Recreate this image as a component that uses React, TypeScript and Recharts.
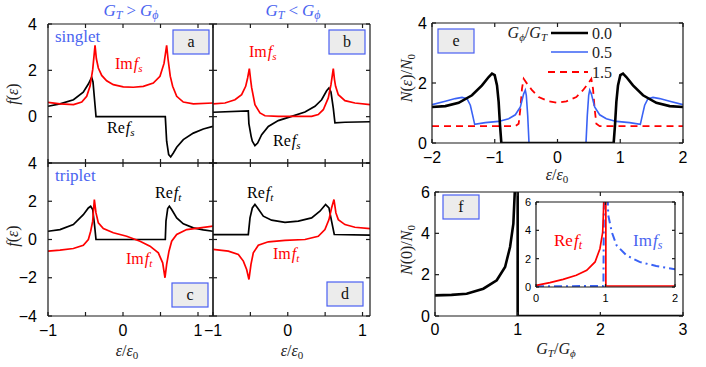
import React from 'react';
import { LineChart, Line, XAxis, YAxis } from 'recharts';

// ---- data: [x, y] pairs ----
// panel a: G_T > G_phi, singlet
const imFsA = [
  [-1, 0.62], [-0.84, 0.55], [-0.66, 0.52], [-0.55, 0.63], [-0.484, 0.88], [-0.44, 1.31], [-0.404, 2.03],
  [-0.373, 3.08], [-0.355, 2.5], [-0.329, 2.1], [-0.284, 1.78], [-0.218, 1.55], [-0.129, 1.38], [0.004, 1.29],
  [0.138, 1.27], [0.271, 1.31], [0.404, 1.45], [0.493, 1.74], [0.547, 2.3], [0.582, 3.08], [0.6, 2.5],
  [0.63, 1.75], [0.662, 1.31], [0.716, 0.88], [0.804, 0.63], [0.938, 0.55], [1.2, 0.59],
];
const reFsA = [
  [-1, 0.45], [-0.84, 0.55], [-0.66, 0.73], [-0.53, 1.06], [-0.462, 1.41], [-0.418, 1.7], [-0.4, 1.5],
  [-0.365, 0.2], [-0.36, 0], [0.564, 0], [0.582, -1.06], [0.609, -1.64], [0.636, -1.74], [0.671, -1.57],
  [0.716, -1.32], [0.804, -0.99], [0.938, -0.71], [1.071, -0.53], [1.2, -0.42],
];
// panel b: G_T < G_phi, singlet
const imFsB = [
  [-1, 0.55], [-0.84, 0.59], [-0.706, 0.73], [-0.617, 0.95], [-0.563, 1.31], [-0.537, 1.67], [-0.514, 2.07],
  [-0.495, 1.55], [-0.483, 1.25], [-0.439, 0.52], [-0.372, 0.16], [-0.305, 0.04], [-0.127, 0.01], [0.319, 0.01],
  [0.408, 0.09], [0.475, 0.3], [0.542, 0.81], [0.578, 1.38], [0.609, 2.07], [0.625, 1.6], [0.64, 1.31],
  [0.676, 0.95], [0.765, 0.69], [0.898, 0.59], [1.1, 0.52],
];
const reFsB = [
  [-1, 0.19], [-0.528, 0.25], [-0.52, -0.3], [-0.49, -0.85], [-0.474, -1.06], [-0.439, -1.25], [-0.403, -1.14],
  [-0.349, -0.78], [-0.26, -0.42], [-0.127, -0.17], [0.052, 0.01], [0.23, 0.2], [0.364, 0.45], [0.453, 0.73],
  [0.52, 1.12], [0.551, 1.24], [0.578, 1.06], [0.609, 0.37], [0.631, -0.27], [0.765, -0.24], [1.1, -0.22],
];
// panel c: G_T > G_phi, triplet
const reFtC = [
  [-1, 0.43], [-0.84, 0.52], [-0.662, 0.78], [-0.529, 1.3], [-0.462, 1.65], [-0.431, 1.74], [-0.404, 1.57],
  [-0.378, 0.7], [-0.36, 0], [0.564, 0], [0.573, 0.96], [0.596, 1.62], [0.618, 1.74], [0.649, 1.57],
  [0.716, 1.13], [0.804, 0.82], [0.938, 0.61], [1.071, 0.5], [1.2, 0.43],
];
const imFtC = [
  [-1, -0.61], [-0.84, -0.56], [-0.662, -0.47], [-0.529, -0.3], [-0.462, 0], [-0.431, 0.43], [-0.404, 0.96],
  [-0.382, 2.09], [-0.36, 1.39], [-0.329, 0.87], [-0.262, 0.57], [-0.129, 0.35], [0.049, 0.17], [0.227, -0.09],
  [0.36, -0.35], [0.471, -0.7], [0.529, -1.22], [0.56, -2.0], [0.582, -1.3], [0.613, -0.61], [0.649, -0.09],
  [0.716, 0.26], [0.849, 0.52], [1.027, 0.61], [1.2, 0.7],
];
// panel d: G_T < G_phi, triplet
const reFtD = [
  [-1, 0.26], [-0.528, 0.26], [-0.505, 1.13], [-0.474, 1.65], [-0.439, 1.83], [-0.403, 1.65], [-0.327, 1.22],
  [-0.216, 1.01], [-0.037, 0.9], [0.141, 0.96], [0.319, 1.13], [0.43, 1.48], [0.506, 1.83], [0.551, 1.65],
  [0.586, 0.96], [0.622, 0.26], [1.1, 0.23],
];
const imFtD = [
  [-1, -0.52], [-0.795, -0.61], [-0.661, -0.78], [-0.594, -1.13], [-0.55, -1.57], [-0.519, -2.09],
  [-0.492, -1.3], [-0.461, -0.7], [-0.394, -0.3], [-0.26, -0.12], [-0.037, -0.05], [0.23, 0], [0.408, 0.17],
  [0.497, 0.52], [0.551, 1.04], [0.586, 1.65], [0.618, 2.09], [0.644, 1.39], [0.676, 1.04], [0.765, 0.78],
  [0.898, 0.64], [1.1, 0.57],
];
// panel e: DOS for G_phi/G_T = 0.0, 0.5, 1.5
const dos00 = [
  [-2, 1.2], [-1.788, 1.23], [-1.575, 1.34], [-1.363, 1.59], [-1.203, 1.92], [-1.097, 2.2], [-1.044, 2.31],
  [-1.001, 2.26], [-0.964, 1.92], [-0.938, 1.37], [-0.916, 0.59], [-0.895, 0], [0.895, 0], [0.916, 0.59],
  [0.938, 1.37], [0.964, 1.92], [1.001, 2.26], [1.044, 2.31], [1.097, 2.2], [1.203, 1.92], [1.363, 1.59],
  [1.575, 1.34], [1.788, 1.23], [2, 1.2],
];
const dos05 = [
  [-2, 1.28], [-1.788, 1.39], [-1.628, 1.48], [-1.522, 1.52], [-1.442, 1.48], [-1.389, 1.26], [-1.352, 0.92],
  [-1.32, 0.62], [-1.15, 0.68], [-0.938, 0.72], [-0.778, 0.81], [-0.672, 0.94], [-0.592, 1.2], [-0.539, 1.64],
  [-0.513, 1.76], [-0.497, 1.59], [-0.475, 0.92], [-0.454, 0], [0.454, 0], [0.475, 0.92], [0.497, 1.59],
  [0.513, 1.76], [0.539, 1.64], [0.592, 1.2], [0.672, 0.94], [0.778, 0.81], [0.938, 0.72], [1.15, 0.68],
  [1.32, 0.62], [1.352, 0.92], [1.389, 1.26], [1.442, 1.48], [1.522, 1.52], [1.628, 1.48], [1.788, 1.39],
  [2, 1.28],
];
const dos15 = [
  [-2, 0.56], [-0.672, 0.56], [-0.619, 0.64], [-0.592, 1.14], [-0.566, 1.81], [-0.539, 2.14], [-0.486, 1.98],
  [-0.406, 1.76], [-0.3, 1.53], [-0.141, 1.39], [0, 1.34], [0.141, 1.39], [0.3, 1.53], [0.406, 1.76],
  [0.486, 1.98], [0.539, 2.14], [0.566, 1.81], [0.592, 1.14], [0.619, 0.64], [0.672, 0.56], [2, 0.56],
];
// panel f: zero-energy DOS vs G_T/G_phi, and inset
const n0 = [
  [0, 1.0], [0.2, 1.02], [0.383, 1.08], [0.585, 1.32], [0.747, 1.73], [0.848, 2.37], [0.908, 3.34],
  [0.948, 4.47], [0.965, 6.0], [0.975, 8], [1.0, 8], [1.0, 0], [3, 0],
];
const reFtInset = [
  [0, 0.12], [0.2, 0.31], [0.39, 0.54], [0.58, 0.83], [0.73, 1.18], [0.85, 1.77], [0.92, 2.7], [0.96, 3.88],
  [0.976, 6], [0.99, 9], [1.005, 9], [1.005, 0.07], [2, 0.07],
];
const imFsInset = [
  [0, 0.05], [0.97, 0.07], [0.98, 9], [1.01, 9], [1.04, 5.06], [1.09, 3.88], [1.16, 2.94], [1.3, 2.24],
  [1.49, 1.77], [1.73, 1.48], [2.0, 1.25],
];

const RED = '#ff0000';
const BLACK = '#000000';
const BLUE = '#3a62f5';
const BLUE_TXT = '#4a64f0';
const AXIS = '#1a1a1a';
const SANS = 'Liberation Sans, Arial, sans-serif';
const SERIF = 'Liberation Serif, Times New Roman, serif';

const PL = 45, PR = 8, PT = 8, PB = 32;

type Pair = number[];
interface Box { left: number; top: number; right: number; bottom: number }
interface Series { data: Pair[]; color: string; width: number; dash?: string }
interface PanelProps {
  box: Box;
  xDomain: [number, number];
  yDomain: [number, number];
  xTicks: number[];
  yTicks: number[];
  xLabeled?: number[];
  yLabeled?: number[];
  series: Series[];
  fontSize?: number;
  tickLen?: number;
  xGap?: number;
  yGap?: number;
}

const toPts = (arr: Pair[]) => arr.map(([x, y]) => ({ x, y }));
const fmt = (labeled: number[]) => (v: number) =>
  labeled.includes(v) ? (v < 0 ? `\u2212${-v}` : `${v}`) : '';

const Panel: React.FC<PanelProps> = ({
  box, xDomain, yDomain, xTicks, yTicks, xLabeled = [], yLabeled = [], series,
  fontSize = 16, tickLen = 4, xGap = 9, yGap = 11,
}) => {
  const w = box.right - box.left;
  const h = box.bottom - box.top;
  const tickStyle = { fill: '#000', fontSize, fontFamily: SANS };
  return (
    <div style={{ position: 'absolute', left: box.left - PL, top: box.top - PT }}>
      <LineChart width={PL + w + PR} height={PT + h + PB} margin={{ top: PT, right: PR, bottom: 0, left: 0 }}>
        <XAxis xAxisId="b" type="number" dataKey="x" domain={xDomain} allowDataOverflow ticks={xTicks}
          interval={0} height={PB} tickSize={-tickLen} tickMargin={tickLen + xGap} tickFormatter={fmt(xLabeled)}
          tick={tickStyle} stroke={AXIS} strokeWidth={1.2} />
        <XAxis xAxisId="t" orientation="top" mirror type="number" dataKey="x" domain={xDomain} allowDataOverflow
          ticks={xTicks} interval={0} height={1} tickSize={tickLen} tickFormatter={() => ''}
          stroke={AXIS} strokeWidth={1.2} />
        <YAxis yAxisId="l" type="number" dataKey="y" domain={yDomain} allowDataOverflow ticks={yTicks}
          interval={0} width={PL} tickSize={-tickLen} tickMargin={tickLen + yGap} tickFormatter={fmt(yLabeled)}
          tick={tickStyle} stroke={AXIS} strokeWidth={1.2} />
        <YAxis yAxisId="r" orientation="right" mirror type="number" dataKey="y" domain={yDomain} allowDataOverflow
          ticks={yTicks} interval={0} width={1} tickSize={tickLen} tickFormatter={() => ''}
          stroke={AXIS} strokeWidth={1.2} />
        {series.map((s, i) => (
          <Line key={i} xAxisId="b" yAxisId="l" data={toPts(s.data)} dataKey="y" type="linear" stroke={s.color}
            strokeWidth={s.width} strokeDasharray={s.dash} dot={false} activeDot={false} isAnimationActive={false} />
        ))}
      </LineChart>
    </div>
  );
};

const LetterBox = ({ x, y, w, h, c }: { x: number; y: number; w: number; h: number; c: string }) => (
  <g>
    <rect x={x} y={y} width={w} height={h} fill="#ececec" stroke="#4a5ff2" strokeWidth={1.2} />
    <text x={x + w / 2} y={y + h / 2 + 5} textAnchor="middle" fontSize={16} fontFamily={SERIF} fill="#111">{c}</text>
  </g>
);

const fTicksX = [-1, -0.5, 0, 0.5, 1];

const App: React.FC = () => {
  return (
    <div style={{ position: 'absolute', left: 0, top: 0, width: 706, height: 367, background: '#fff', overflow: 'hidden' }}>
      <Panel box={{ left: 48, top: 24, right: 213, bottom: 163 }} xDomain={[-1, 1.2]} yDomain={[-2, 4]}
        xTicks={fTicksX} yTicks={[-2, 0, 2, 4]} yLabeled={[0, 2, 4]}
        series={[{ data: reFsA, color: BLACK, width: 1.7 }, { data: imFsA, color: RED, width: 1.7 }]} />
      <Panel box={{ left: 213, top: 24, right: 370, bottom: 163 }} xDomain={[-1, 1.1]} yDomain={[-2, 4]}
        xTicks={fTicksX} yTicks={[-2, 0, 2, 4]}
        series={[{ data: reFsB, color: BLACK, width: 1.7 }, { data: imFsB, color: RED, width: 1.7 }]} />
      <Panel box={{ left: 48, top: 163, right: 213, bottom: 316 }} xDomain={[-1, 1.2]} yDomain={[-4, 4]}
        xTicks={fTicksX} yTicks={[-4, -2, 0, 2, 4]} xLabeled={[-1, 0, 1]} yLabeled={[-4, -2, 0, 2, 4]}
        series={[{ data: reFtC, color: BLACK, width: 1.7 }, { data: imFtC, color: RED, width: 1.7 }]} />
      <Panel box={{ left: 213, top: 163, right: 370, bottom: 316 }} xDomain={[-1, 1.1]} yDomain={[-4, 4]}
        xTicks={fTicksX} yTicks={[-4, -2, 0, 2, 4]} xLabeled={[-1, 0, 1]}
        series={[{ data: reFtD, color: BLACK, width: 1.7 }, { data: imFtD, color: RED, width: 1.7 }]} />
      <Panel box={{ left: 432, top: 23, right: 683, bottom: 143 }} xDomain={[-2, 2]} yDomain={[0, 4]}
        xTicks={[-2, -1, 0, 1, 2]} yTicks={[0, 2, 4]} xLabeled={[-2, -1, 0, 1, 2]} yLabeled={[0, 2, 4]}
        xGap={9} yGap={5}
        series={[
          { data: dos15, color: RED, width: 1.8, dash: '7 5' },
          { data: dos05, color: BLUE, width: 1.6 },
          { data: dos00, color: BLACK, width: 2.6 },
        ]} />
      <Panel box={{ left: 435, top: 192, right: 683, bottom: 316 }} xDomain={[0, 3]} yDomain={[0, 6]}
        xTicks={[0, 1, 2, 3]} yTicks={[0, 2, 4, 6]} xLabeled={[0, 1, 2, 3]} yLabeled={[0, 2, 4, 6]}
        xGap={8} yGap={5}
        series={[{ data: n0, color: BLACK, width: 2.6 }]} />
      <div style={{ position: 'absolute', left: 536, top: 202, width: 139, height: 85, background: '#fff' }} />
      <Panel box={{ left: 536, top: 202, right: 675, bottom: 287 }} xDomain={[0, 2]} yDomain={[0, 6]}
        xTicks={[0, 1, 2]} yTicks={[0, 2, 4, 6]} xLabeled={[0, 1, 2]} yLabeled={[0, 2, 4, 6]}
        fontSize={11} tickLen={3} xGap={7} yGap={5}
        series={[
          { data: imFsInset, color: BLUE, width: 2, dash: '8 4 2 4' },
          { data: reFtInset, color: RED, width: 1.7 },
        ]} />

      <svg width={706} height={367} style={{ position: 'absolute', left: 0, top: 0, pointerEvents: 'none' }}
        fontFamily={SERIF} fontSize={16}>
        {/* column titles */}
        <text x={131} y={16} textAnchor="middle" fill={BLUE_TXT} fontSize={17}>
          <tspan fontStyle="italic">G</tspan><tspan fontStyle="italic" fontSize={12} dy={3}>T</tspan>
          <tspan dy={-3} dx={4}>&gt;</tspan>
          <tspan fontStyle="italic" dx={4}>G</tspan><tspan fontStyle="italic" fontSize={12} dy={3}>ϕ</tspan>
        </text>
        <text x={293} y={16} textAnchor="middle" fill={BLUE_TXT} fontSize={17}>
          <tspan fontStyle="italic">G</tspan><tspan fontStyle="italic" fontSize={12} dy={3}>T</tspan>
          <tspan dy={-3} dx={4}>&lt;</tspan>
          <tspan fontStyle="italic" dx={4}>G</tspan><tspan fontStyle="italic" fontSize={12} dy={3}>ϕ</tspan>
        </text>

        {/* panel annotations */}
        <text x={55} y={42} fill={BLUE_TXT} fontSize={17}>singlet</text>
        <text x={55} y={181} fill={BLUE_TXT} fontSize={17}>triplet</text>
        <text x={115} y={69} fill={RED}>Im<tspan fontStyle="italic" dx={1}>f</tspan><tspan fontStyle="italic" fontSize={11} dy={3}>s</tspan></text>
        <text x={107} y={133} fill={BLACK}>Re<tspan fontStyle="italic" dx={1}>f</tspan><tspan fontStyle="italic" fontSize={11} dy={3}>s</tspan></text>
        <text x={249} y={57} fill={RED}>Im<tspan fontStyle="italic" dx={1}>f</tspan><tspan fontStyle="italic" fontSize={11} dy={3}>s</tspan></text>
        <text x={273} y={146} fill={BLACK}>Re<tspan fontStyle="italic" dx={1}>f</tspan><tspan fontStyle="italic" fontSize={11} dy={3}>s</tspan></text>
        <text x={155} y={198} fill={BLACK}>Re<tspan fontStyle="italic" dx={1}>f</tspan><tspan fontStyle="italic" fontSize={11} dy={3}>t</tspan></text>
        <text x={126} y={264} fill={RED}>Im<tspan fontStyle="italic" dx={1}>f</tspan><tspan fontStyle="italic" fontSize={11} dy={3}>t</tspan></text>
        <text x={247} y={198} fill={BLACK}>Re<tspan fontStyle="italic" dx={1}>f</tspan><tspan fontStyle="italic" fontSize={11} dy={3}>t</tspan></text>
        <text x={273} y={259} fill={RED}>Im<tspan fontStyle="italic" dx={1}>f</tspan><tspan fontStyle="italic" fontSize={11} dy={3}>t</tspan></text>
        <text x={554} y={246} fill={RED} fontSize={17}>Re<tspan fontStyle="italic" dx={1}>f</tspan><tspan fontStyle="italic" fontSize={12} dy={3}>t</tspan></text>
        <text x={633} y={246} fill={BLUE_TXT} fontSize={17}>Im<tspan fontStyle="italic" dx={1}>f</tspan><tspan fontStyle="italic" fontSize={12} dy={3}>s</tspan></text>

        {/* panel letters */}
        <LetterBox x={173} y={30} w={36} h={24} c="a" />
        <LetterBox x={329} y={30} w={36} h={24} c="b" />
        <LetterBox x={172} y={283} w={36} h={24} c="c" />
        <LetterBox x={327} y={282} w={36} h={24} c="d" />
        <LetterBox x={438} y={29} w={36} h={24} c="e" />
        <LetterBox x={443} y={195} w={36} h={24} c="f" />

        {/* axis titles */}
        <text transform="translate(18,94) rotate(-90)" textAnchor="middle" fill="#222">
          <tspan fontStyle="italic">f</tspan>(<tspan fontStyle="italic">ε</tspan>)
        </text>
        <text transform="translate(18,236) rotate(-90)" textAnchor="middle" fill="#222">
          <tspan fontStyle="italic">f</tspan>(<tspan fontStyle="italic">ε</tspan>)
        </text>
        <text x={127} y={356} textAnchor="middle" fill="#222">
          <tspan fontStyle="italic">ε</tspan>/<tspan fontStyle="italic">ε</tspan><tspan fontSize={11} dy={3}>0</tspan>
        </text>
        <text x={292} y={356} textAnchor="middle" fill="#222">
          <tspan fontStyle="italic">ε</tspan>/<tspan fontStyle="italic">ε</tspan><tspan fontSize={11} dy={3}>0</tspan>
        </text>
        <text x={557} y={180} textAnchor="middle" fill="#222">
          <tspan fontStyle="italic">ε</tspan>/<tspan fontStyle="italic">ε</tspan><tspan fontSize={11} dy={3}>0</tspan>
        </text>
        <text transform="translate(412,78) rotate(-90)" textAnchor="middle" fill="#222">
          <tspan fontStyle="italic">N</tspan>(<tspan fontStyle="italic">ε</tspan>)/<tspan fontStyle="italic">N</tspan><tspan fontSize={11} dy={3}>0</tspan>
        </text>
        <text transform="translate(412,250) rotate(-90)" textAnchor="middle" fill="#222">
          <tspan fontStyle="italic">N</tspan>(0)/<tspan fontStyle="italic">N</tspan><tspan fontSize={11} dy={3}>0</tspan>
        </text>
        <text x={556} y={354} textAnchor="middle" fill="#222">
          <tspan fontStyle="italic">G</tspan><tspan fontStyle="italic" fontSize={11} dy={3}>T</tspan>
          <tspan dy={-3}>/</tspan><tspan fontStyle="italic">G</tspan><tspan fontStyle="italic" fontSize={11} dy={3}>ϕ</tspan>
        </text>

        {/* legend of panel e */}
        <text x={547} y={38} textAnchor="end" fill="#222">
          <tspan fontStyle="italic">G</tspan><tspan fontStyle="italic" fontSize={11} dy={3}>ϕ</tspan>
          <tspan dy={-3}>/</tspan><tspan fontStyle="italic">G</tspan><tspan fontStyle="italic" fontSize={11} dy={3}>T</tspan>
        </text>
        <line x1={551} y1={33} x2={588} y2={33} stroke={BLACK} strokeWidth={2.6} />
        <text x={592} y={39} fill="#222">0.0</text>
        <line x1={551} y1={52} x2={588} y2={52} stroke={BLUE} strokeWidth={1.6} />
        <text x={592} y={58} fill="#222">0.5</text>
        <line x1={548} y1={72} x2={588} y2={72} stroke={RED} strokeWidth={1.8} strokeDasharray="7 5" />
        <text x={592} y={78} fill="#222">1.5</text>
      </svg>
    </div>
  );
};

export default App;
